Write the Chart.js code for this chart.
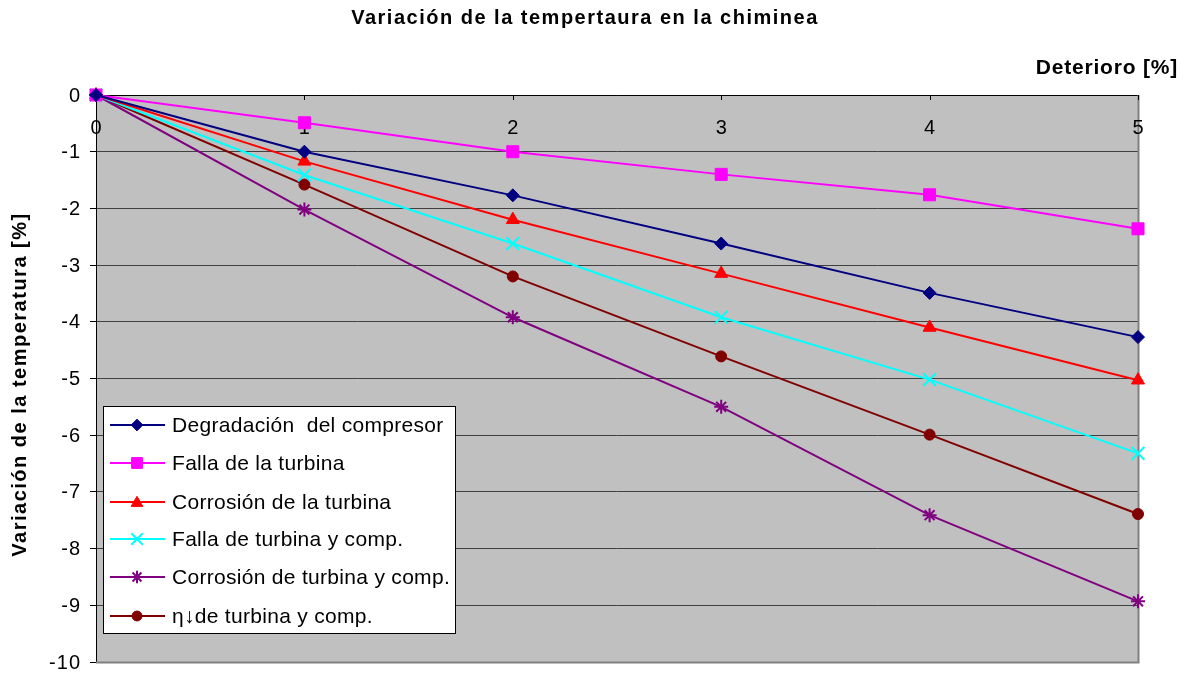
<!DOCTYPE html>
<html>
<head>
<meta charset="utf-8">
<script src="https://cdn.jsdelivr.net/npm/chart.js@4/dist/chart.umd.min.js"></script>
<style>
  html, body { margin: 0; padding: 0; background: #fff; }
  #wrap { width: 1190px; height: 673px; position: relative; }
</style>
</head>
<body>
<div id="wrap"><canvas id="c" width="1190" height="673"></canvas></div>
<script>
// Deterioro [%] on the horizontal axis
const deterioro = [0, 1, 2, 3, 4, 5];
const xTickLabels = ['0', '1', '2', '3', '4', '5'];

// Variación de la temperatura [%] for each failure mode
const degradacionCompresor = [0, -1.00, -1.77, -2.62, -3.49, -4.27];
const fallaTurbina         = [0, -0.49, -1.00, -1.40, -1.76, -2.36];
const corrosionTurbina     = [0, -1.17, -2.20, -3.15, -4.10, -5.03];
const fallaTurbinaComp     = [0, -1.41, -2.62, -3.92, -5.02, -6.32];
const corrosionTurbinaComp = [0, -2.02, -3.92, -5.50, -7.41, -8.93];
const rendTurbinaComp      = [0, -1.58, -3.20, -4.61, -5.99, -7.39];

const seriesNames = [
  'Degradación  del compresor',
  'Falla de la turbina',
  'Corrosión de la turbina',
  'Falla de turbina y comp.',
  'Corrosión de turbina y comp.',
  'η↓de turbina y comp.'
];

const FONT = '"Liberation Sans", Arial, sans-serif';

function pts(values) {
  return deterioro.map((x, i) => ({ x: x, y: values[i] }));
}

function ds(label, values, color, style, radius, lw) {
  return {
    label: label,
    data: pts(values),
    borderColor: color,
    backgroundColor: color,
    borderWidth: 2,
    pointStyle: style,
    pointRadius: radius,
    pointHoverRadius: radius,
    pointBorderWidth: lw,
    pointBorderColor: color,
    pointBackgroundColor: color,
    tension: 0,
    clip: false
  };
}

const datasets = [
  ds(seriesNames[0], degradacionCompresor, '#000080', 'rectRot', 6.5, 1),
  ds(seriesNames[1], fallaTurbina, '#FF00FF', 'rect', 8.5, 1),
  ds(seriesNames[2], corrosionTurbina, '#FF0000', 'triangle', 7.5, 1),
  ds(seriesNames[3], fallaTurbinaComp, '#00FFFF', 'crossRot', 9, 2),
  ds(seriesNames[4], corrosionTurbinaComp, '#800080', 'star', 7, 2),
  ds(seriesNames[5], rendTurbinaComp, '#800000', 'circle', 5.5, 1)
];

function spacing(ctx, px) {
  if ('letterSpacing' in ctx) ctx.letterSpacing = px + 'px';
}

// Plot background, frame, inside ticks, axis labels, titles and legend box
const decor = {
  id: 'decor',
  beforeDraw(chart) {
    const { ctx, chartArea: a } = chart;
    ctx.save();
    ctx.fillStyle = '#C0C0C0';
    ctx.fillRect(a.left, a.top, a.right - a.left, a.bottom - a.top);
    ctx.restore();
  },
  beforeDatasetsDraw(chart) {
    const { ctx, chartArea: a, scales } = chart;
    ctx.save();
    // grey frame on right and bottom
    ctx.strokeStyle = '#808080';
    ctx.lineWidth = 2;
    ctx.beginPath();
    ctx.moveTo(a.left, a.bottom + 0.5);
    ctx.lineTo(a.right + 0.5, a.bottom + 0.5);
    ctx.lineTo(a.right + 0.5, a.top);
    ctx.stroke();
    // small ticks on the top axis, pointing down
    ctx.strokeStyle = '#000';
    ctx.lineWidth = 1;
    const xs = scales.x;
    deterioro.forEach(v => {
      const px = Math.round(xs.getPixelForValue(v)) + 0.5;
      ctx.beginPath();
      ctx.moveTo(px, a.top);
      ctx.lineTo(px, a.top + 5);
      ctx.stroke();
    });
    // x tick labels under the top axis line
    ctx.fillStyle = '#000';
    ctx.font = '20px ' + FONT;
    ctx.textAlign = 'center';
    ctx.textBaseline = 'middle';
    deterioro.forEach((v, i) => {
      ctx.fillText(xTickLabels[i], xs.getPixelForValue(v), a.top + 33);
    });
    // y tick labels
    const ys = scales.y;
    ctx.textAlign = 'right';
    spacing(ctx, 1);
    ys.ticks.forEach(t => {
      ctx.fillText(String(t.value), 81, ys.getPixelForValue(t.value) + 1);
    });
    spacing(ctx, 0);
    // y axis title
    ctx.save();
    ctx.translate(20, (a.top + a.bottom) / 2 + 6);
    ctx.rotate(-Math.PI / 2);
    ctx.font = 'bold 20px ' + FONT;
    ctx.textAlign = 'center';
    spacing(ctx, 1.5);
    ctx.fillText('Variación de la temperatura [%]', 0, 0);
    ctx.restore();
    ctx.restore();
  },
  afterDraw(chart) {
    const { ctx } = chart;
    ctx.save();
    ctx.fillStyle = '#000';
    // chart title
    ctx.font = 'bold 20px ' + FONT;
    ctx.textAlign = 'center';
    ctx.textBaseline = 'middle';
    spacing(ctx, 1.5);
    ctx.fillText('Variación de la tempertaura en la chiminea', 585, 18);
    // horizontal axis title
    ctx.font = 'bold 21px ' + FONT;
    ctx.textAlign = 'right';
    spacing(ctx, 0.8);
    ctx.fillText('Deterioro [%]', 1178, 68);
    spacing(ctx, 0);

    // legend
    const bx = 103.5, by = 406.5, bw = 352, bh = 227;
    ctx.fillStyle = '#fff';
    ctx.fillRect(bx, by, bw, bh);
    ctx.strokeStyle = '#000';
    ctx.lineWidth = 1;
    ctx.strokeRect(bx, by, bw, bh);
    const rowY = [425, 463, 502, 539, 577, 616];
    ctx.font = '21px ' + FONT;
    ctx.textAlign = 'left';
    ctx.textBaseline = 'middle';
    chart.data.datasets.forEach((d, i) => {
      const y = rowY[i];
      ctx.strokeStyle = d.borderColor;
      ctx.lineWidth = 2;
      ctx.beginPath();
      ctx.moveTo(110, y);
      ctx.lineTo(165, y);
      ctx.stroke();
      ctx.fillStyle = d.pointBackgroundColor;
      ctx.strokeStyle = d.pointBorderColor;
      ctx.lineWidth = d.pointBorderWidth;
      Chart.helpers.drawPoint(ctx, {
        pointStyle: d.pointStyle,
        rotation: 0,
        radius: d.pointRadius * 0.9,
        borderWidth: d.pointBorderWidth
      }, 137, y + (d.pointStyle === 'triangle' ? 1 : 0));
      ctx.fillStyle = '#000';
      spacing(ctx, 0.3);
      ctx.fillText(d.label, 172, y + 1);
      spacing(ctx, 0);
    });
    ctx.restore();
  }
};

new Chart(document.getElementById('c'), {
  type: 'line',
  data: { datasets: datasets },
  plugins: [decor],
  options: {
    responsive: false,
    animation: false,
    events: [],
    layout: { padding: { left: 0, top: 0, right: 52, bottom: 10 } },
    plugins: {
      legend: { display: false },
      title: { display: false },
      tooltip: { enabled: false }
    },
    scales: {
      x: {
        type: 'linear',
        position: 'top',
        min: 0,
        max: 5,
        ticks: { display: false, stepSize: 1 },
        grid: { display: false },
        border: { display: true, color: '#000', width: 1 },
        afterFit(s) { s.height = 95; s.paddingLeft = 0; s.paddingRight = 0; }
      },
      y: {
        type: 'linear',
        min: -10,
        max: 0,
        ticks: { display: false, stepSize: 1 },
        grid: {
          color: '#404040',
          lineWidth: 1,
          tickLength: 6,
          tickColor: '#000'
        },
        border: { display: true, color: '#000', width: 1 },
        afterFit(s) { s.width = 96; s.paddingTop = 0; s.paddingBottom = 0; }
      }
    }
  }
});
</script>
</body>
</html>
